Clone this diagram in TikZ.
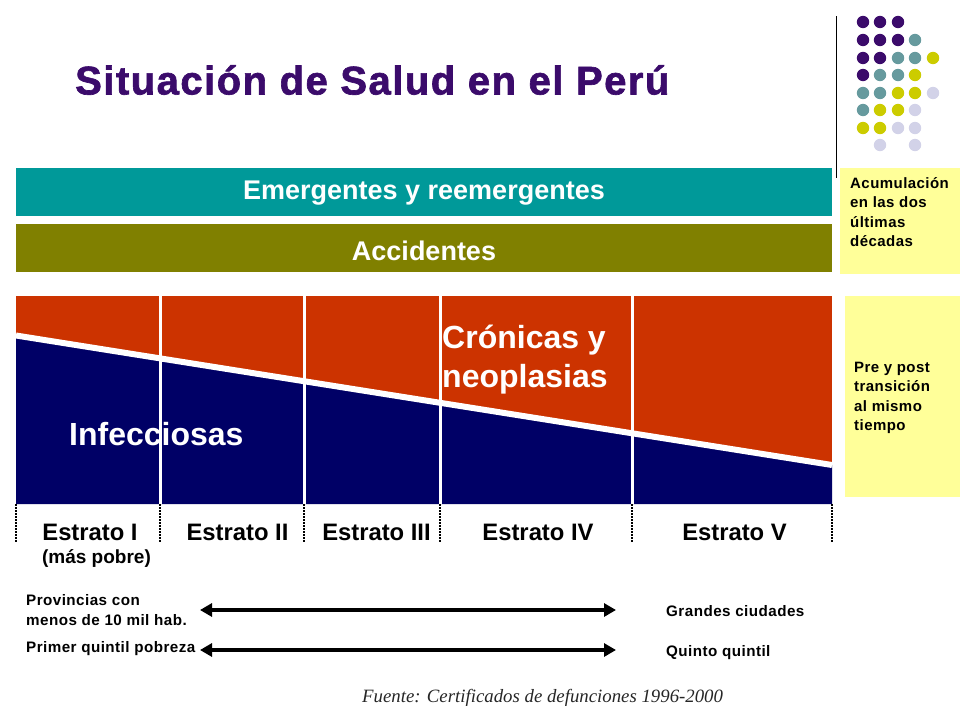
\documentclass[tikz,border=0pt]{standalone}
\usepackage{fontspec}
\setmainfont{Liberation Sans}
\newfontfamily\titlefont[LetterSpace=3.7,BoldFeatures={FakeBold=1.6}]{Liberation Sans}
\newfontfamily\smallfont[LetterSpace=3.0]{Liberation Sans}
\newfontfamily\seriffont{Liberation Serif}
\usetikzlibrary{arrows.meta}
\definecolor{dpurple}{HTML}{3B0B6B}
\definecolor{dteal}{HTML}{669A9E}
\definecolor{dyellow}{HTML}{CCCC00}
\definecolor{dlav}{HTML}{D2D2E8}
\definecolor{cteal}{HTML}{009999}
\definecolor{colive}{HTML}{808000}
\definecolor{cyell}{HTML}{FFFF99}
\definecolor{cred}{HTML}{CC3300}
\definecolor{cnavy}{HTML}{000066}
\tikzset{
  x=1pt,y=-1pt,
  barlabel/.style={text=white,font=\fontsize{27}{32}\selectfont\bfseries},
  biglabel/.style={text=white,font=\fontsize{32}{39}\selectfont\bfseries,align=left,anchor=west,inner sep=0pt},
  estrato/.style={text=black,font=\fontsize{23.8}{28}\selectfont\bfseries,inner sep=0pt},
  smalllabel/.style={text=black,font=\fontsize{15.2}{19.5}\smallfont\bfseries,align=left,anchor=west,inner sep=0pt},
  sidelabel/.style={text=black,font=\fontsize{15}{19.4}\smallfont\bfseries,align=left,anchor=west,inner sep=0pt},
  divider/.style={white,line width=3pt},
  dotline/.style={black,line width=1.5pt,dash pattern=on 1.5pt off 1.5pt},
  biarrow/.style={black,line width=4pt,{Triangle[length=12pt,width=13pt]}-{Triangle[length=12pt,width=13pt]}},
}
\begin{document}
\begin{tikzpicture}
\useasboundingbox (0,0) rectangle (960,720);
\fill[white] (0,0) rectangle (960,720);
% title
\node[anchor=west,inner sep=0pt,text=dpurple,font=\fontsize{40}{44}\titlefont\bfseries] (title) at (75,80) {Situación de Salud en el Perú};
% decorative dots
\foreach \x/\y/\c in {
 863/22/dpurple,880/22/dpurple,898/22/dpurple,
 863/40/dpurple,880/40/dpurple,898/40/dpurple,915/40/dteal,
 863/58/dpurple,880/58/dpurple,898/58/dteal,915/58/dteal,933/58/dyellow,
 863/75/dpurple,880/75/dteal,898/75/dteal,915/75/dyellow,
 863/93/dteal,880/93/dteal,898/93/dyellow,915/93/dyellow,933/93/dlav,
 863/110/dteal,880/110/dyellow,898/110/dyellow,915/110/dlav,
 863/128/dyellow,880/128/dyellow,898/128/dlav,915/128/dlav,
 880/145/dlav,915/145/dlav}
 \fill[\c] (\x,\y) circle (6.2);
\draw[black,line width=1pt] (836.5,16) -- (836.5,178);
% bars
\fill[cteal] (16,168) rectangle (832,216);
\fill[colive] (16,224) rectangle (832,272);
\node[barlabel] (emerg) at (424,193) {Emergentes y reemergentes};
\node[barlabel] (accid) at (424,251) {Accidentes};
% side boxes
\fill[cyell] (840,168) rectangle (960,274);
\fill[cyell] (845,296) rectangle (960,497);
\node[sidelabel] (acum) at (850,212) {Acumulación\\en las dos\\últimas\\décadas};
\node[sidelabel] (pre) at (854,398) {Pre y post\\transición\\al mismo\\tiempo};
% main area
\fill[cred] (16,296) rectangle (832,504);
\fill[cnavy] (16,335.5) -- (832,465) -- (832,504) -- (16,504) -- cycle;
\draw[white,line width=6pt] (16,335.5) -- (832,465);
\foreach \x in {160,304,440,632} \draw[divider] (\x,296) -- (\x,504);
\foreach \x in {16,160,304,440,632,832} \draw[dotline] (\x,504) -- (\x,542);
\node[biglabel] (cron) at (442,359.5) {Crónicas y\\neoplasias};
\node[biglabel] (inf) at (69,434) {Infecciosas};
% estratos
\node[estrato] (e1) at (90,532) {Estrato I};
\node[text=black,inner sep=0pt,font=\fontsize{19}{22}\selectfont\bfseries] (mp) at (96.5,558) {(más pobre)};
\node[estrato] (e2) at (237.5,532) {Estrato II};
\node[estrato] (e3) at (376.5,532) {Estrato III};
\node[estrato] (e4) at (538,532) {Estrato IV};
\node[estrato] (e5) at (734.5,532) {Estrato V};
% lower rows
\node[smalllabel] (prov) at (26,610) {Provincias con\\menos de 10 mil hab.};
\node[smalllabel] (prim) at (26,649) {Primer quintil pobreza};
\node[smalllabel] (gran) at (666,611) {Grandes ciudades};
\node[smalllabel] (quin) at (666,652.5) {Quinto quintil};
\coordinate (a1) at (200,610);
\coordinate (b1) at (616,610);
\coordinate (a2) at (200,650);
\coordinate (b2) at (616,650);
\draw[biarrow] (a1) -- (b1);
\draw[biarrow] (a2) -- (b2);
\node[anchor=west,inner sep=0pt,text=black!85,font=\fontsize{18.8}{22}\seriffont\itshape] (fuente) at (362,698) {Fuente: Certificados de defunciones 1996-2000};
\end{tikzpicture}
\end{document}
